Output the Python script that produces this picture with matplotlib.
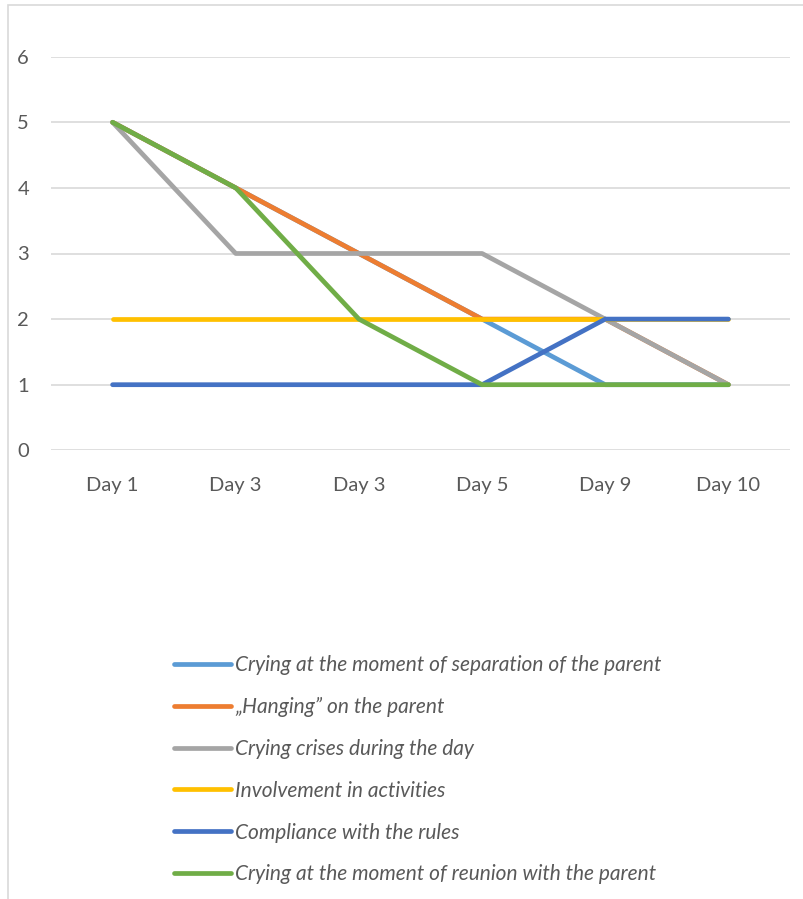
import matplotlib
matplotlib.use("Agg")
import matplotlib.pyplot as plt
from matplotlib.patches import Rectangle

days = ["Day 1", "Day 3", "Day 3", "Day 5", "Day 9", "Day 10"]

separation_crying = [5, 4, 3, 2, 1, 1]
hanging_on_parent = [5, 4, 3, 2, 2, 1]
crying_crises = [5, 3, 3, 3, 2, 1]
involvement = [2, 2, 2, 2, 2, 2]
rule_compliance = [1, 1, 1, 1, 2, 2]
reunion_crying = [5, 4, 2, 1, 1, 1]

series_labels = [
    "Crying at the moment of separation of the parent",
    "\u201eHanging\u201d on the parent",
    "Crying crises during the day",
    "Involvement in activities",
    "Compliance with the rules",
    "Crying at the moment of reunion with the parent",
]
series_values = [separation_crying, hanging_on_parent, crying_crises,
                 involvement, rule_compliance, reunion_crying]
colors = ["#5B9BD5", "#ED7D31", "#A5A5A5", "#FFC000", "#4472C4", "#70AD47"]

plt.rcParams["font.family"] = ["Lato", "DejaVu Sans"]
text_color = "#595959"

W, H = 804, 899
fig = plt.figure(figsize=(W / 100, H / 100), dpi=100)
fig.patch.set_facecolor("white")

# chart-area frame (open on the right and bottom)
fig.patches.append(Rectangle((8 / W, -0.1), 1.2, 1 - 5 / H + 0.1,
                             transform=fig.transFigure, fill=False,
                             edgecolor="#D9D9D9", linewidth=1.2))

left, right = 51 / W, 790 / W
top, bottom = 1 - 56.7 / H, 1 - 450.3 / H
ax = fig.add_axes([left, bottom, right - left, top - bottom])

x = list(range(len(days)))
handles = []
for vals, lab, col in zip(series_values, series_labels, colors):
    (ln,) = ax.plot(x, vals, color=col, linewidth=3.4, label=lab,
                    solid_capstyle="round", solid_joinstyle="round")
    handles.append(ln)

ax.set_xlim(-0.5, len(days) - 0.5)
ax.set_ylim(0, 6)
ax.set_yticks(range(0, 7))
ax.set_xticks(x)
ax.set_xticklabels(days)
ax.yaxis.grid(True, color="#D9D9D9", linewidth=1.2)
ax.set_axisbelow(True)
for s in ax.spines.values():
    s.set_visible(False)
ax.tick_params(axis="both", length=0, colors=text_color, labelsize=14.5)
ax.tick_params(axis="y", pad=20)
ax.tick_params(axis="x", pad=19)
for t in ax.get_yticklabels():
    t.set_horizontalalignment("center")

leg = fig.legend(handles=handles, loc="upper left",
                 bbox_to_anchor=(174 / W, 1 - 655 / H),
                 frameon=False, handlelength=2.74, handletextpad=0.19,
                 labelspacing=1.05, borderaxespad=0, borderpad=0,
                 prop={"family": ["Lato", "DejaVu Sans"], "style": "italic",
                       "size": 15})
for t in leg.get_texts():
    t.set_color(text_color)
for lh in leg.get_lines():
    lh.set_linewidth(3.4)
    lh.set_solid_capstyle("round")

fig.savefig("out.png", dpi=100)
